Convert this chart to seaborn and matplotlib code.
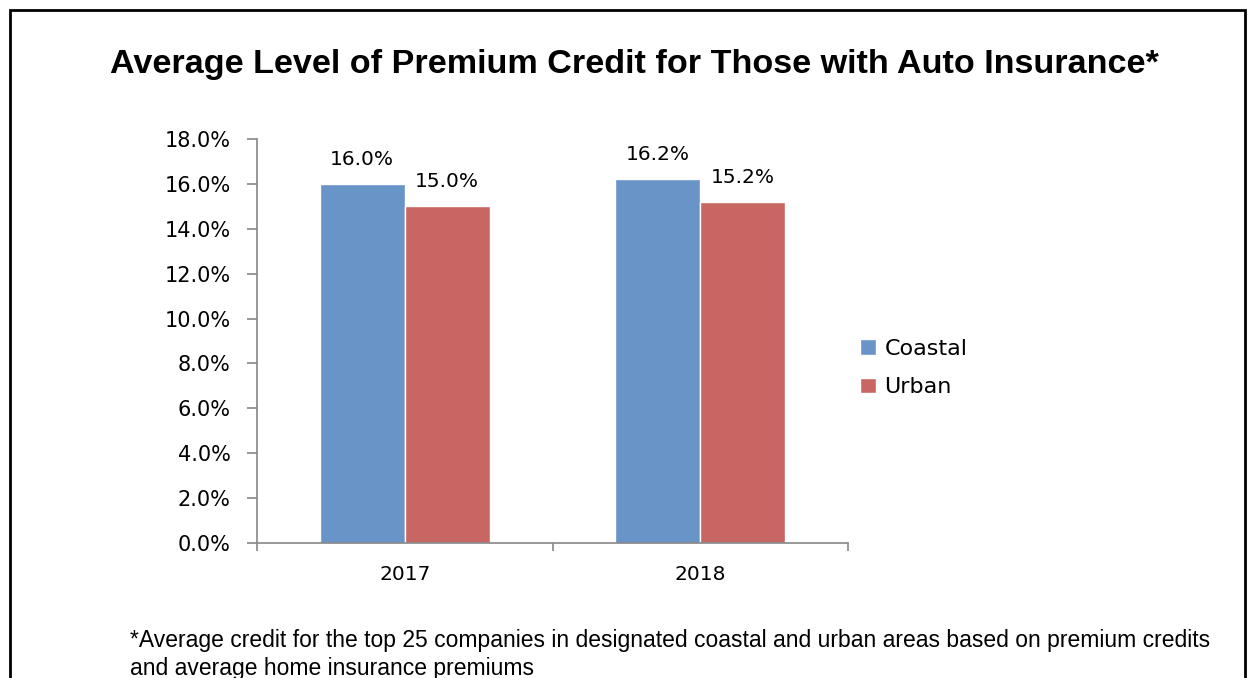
import pandas as pd
import matplotlib.pyplot as plt
import seaborn as sns
from matplotlib.patches import Rectangle, Patch

years = ["2017", "2018"]
areas = ["Coastal", "Urban"]
coastal = [16.0, 16.2]
urban = [15.0, 15.2]
colors = ["#6894C8", "#C86664"]

df = pd.DataFrame({
    "year": years * 2,
    "area": ["Coastal"] * 2 + ["Urban"] * 2,
    "value": coastal + urban,
})

sns.set_style("white")
plt.rcParams['font.family'] = ['DejaVu Sans']
plt.rcParams['text.color'] = 'black'
plt.rcParams['xtick.color'] = 'black'
plt.rcParams['ytick.color'] = 'black'

fig = plt.figure(figsize=(12.48, 6.78), dpi=100)
# black frame around the chart (bottom edge is cut off in the original)
fig.patches.append(Rectangle((10 / 1248, -0.05), 1235 / 1248, 1.05 - 10 / 678,
                             transform=fig.transFigure, fill=False,
                             edgecolor="black", linewidth=2))

ax = fig.add_axes([257 / 1248, 1 - 543 / 678, (848 - 257) / 1248, (543 - 139) / 678])
sns.barplot(data=df, x="year", y="value", hue="area", hue_order=areas,
            palette=colors, width=0.576, saturation=1, ax=ax, legend=False)

for cont in ax.containers:
    ax.bar_label(cont, labels=[f"{v:.1f}%" for v in cont.datavalues],
                 padding=11, fontsize=14.5, color="black")

ax.set_ylim(0, 18)
ax.set_xlim(-0.5, 1.5)
ax.set_yticks([i * 2 for i in range(10)])
ax.set_yticklabels([f"{i * 2:.1f}%" for i in range(10)], fontsize=15)
ax.set_xticks([-0.5, 0.5, 1.5])
ax.set_xticklabels(["", "", ""])
ax.set_xticks([0, 1], minor=True)
ax.set_xticklabels(years, minor=True, fontsize=14.5)
ax.tick_params(axis="x", which="minor", bottom=False, length=0, pad=16)
ax.tick_params(axis="x", which="major", bottom=True, length=6, width=1.2,
               color="#868686", direction="out")
ax.tick_params(axis="y", left=True, length=7, width=1.2, color="#868686",
               labelcolor="black", direction="out", pad=12)
ax.set_xlabel("")
ax.set_ylabel("")
sns.despine(ax=ax)
for s in ["left", "bottom"]:
    ax.spines[s].set_color("#868686")
    ax.spines[s].set_linewidth(1.2)

handles = [Patch(facecolor=c, label=a) for c, a in zip(colors, areas)]
fig.legend(handles=handles, loc="center left", bbox_to_anchor=(840 / 1248, 1 - 368 / 678),
           frameon=False, fontsize=16, handlelength=0.7, handleheight=0.7,
           handletextpad=0.4, labelspacing=0.85)

fig.text(634 / 1248, 1 - 64 / 678, "Average Level of Premium Credit for Those with Auto Insurance*",
         ha="center", va="center", fontsize=24.6, fontweight="bold",
         family="Liberation Sans", color="black")
fig.text(130 / 1248, 1 - 640 / 678,
         "*Average credit for the top 25 companies in designated coastal and urban areas based on premium credits",
         ha="left", va="center", fontsize=16.5, family="Liberation Sans", color="black")
fig.text(130 / 1248, 1 - 668 / 678, "and average home insurance premiums",
         ha="left", va="center", fontsize=16.5, family="Liberation Sans", color="black")

fig.savefig("out.png", dpi=100)
